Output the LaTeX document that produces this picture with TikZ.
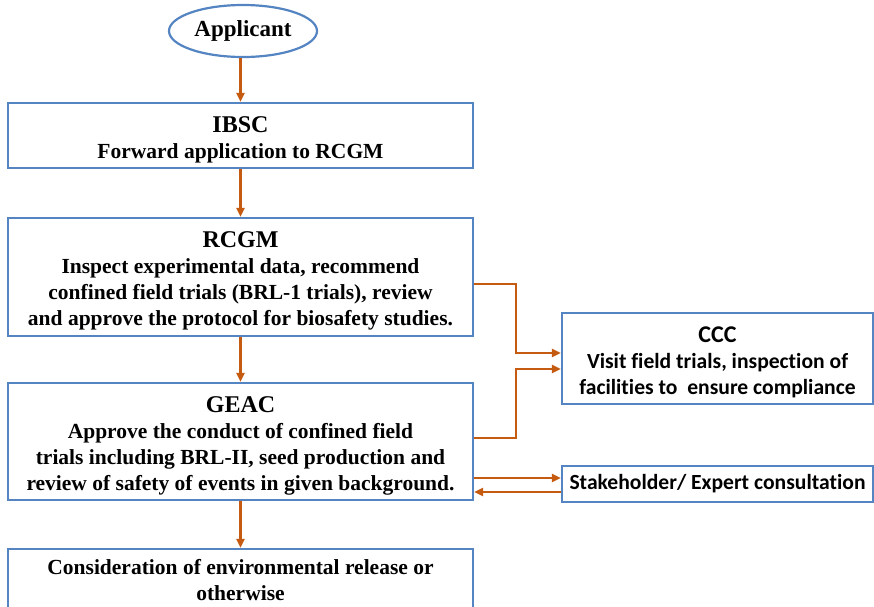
\documentclass[tikz,border=0pt]{standalone}
\usepackage{fontspec}
\setmainfont{Liberation Serif}
\newfontfamily\calibfont[Ligatures=NoCommon]{Carlito}
\usetikzlibrary{shapes.geometric,arrows.meta}
\definecolor{boxblue}{RGB}{84,132,194}
\definecolor{arrorange}{RGB}{197,90,17}
\newcommand{\hd}[1]{{\fontsize{24}{26}\selectfont\rule{0pt}{24pt}#1}}

\begin{document}
\begin{tikzpicture}[x=1pt,y=-1pt,
		box/.style={draw=boxblue, line width=2.2pt, fill=white, align=center, inner sep=0pt},
		leftbox/.style={box, minimum width=465pt, font=\bfseries\fontsize{21.5}{26}\selectfont},
		rightbox/.style={box, minimum width=311pt, font=\calibfont\bfseries\fontsize{21.6}{26}\selectfont},
		arr/.style={draw=arrorange, line width=2.2pt, -{Triangle[length=9pt,width=8pt]}}]
	\useasboundingbox (0,0) rectangle (874,606);
	\clip (0,0) rectangle (874,606);

	\node[ellipse, draw=boxblue, line width=2.2pt, minimum width=148pt, minimum height=52pt,
		inner sep=0pt, font=\bfseries\fontsize{23}{26}\selectfont] (app) at (243,31) {Applicant};
	\node[leftbox, minimum height=65pt] (ibsc) at (240.5,135.5)
		{\hd{IBSC}\\Forward application to RCGM};
	\node[leftbox, minimum height=118pt] (rcgm) at (240.5,277)
		{\hd{RCGM}\\Inspect experimental data, recommend\\confined field trials (BRL-1 trials), review\\and approve the protocol for biosafety studies.};
	\node[leftbox, minimum height=117pt] (geac) at (240.5,441.5)
		{\hd{GEAC}\\Approve the conduct of confined field\\trials including BRL-II, seed production and\\review of safety of events in given background.};
	\node[leftbox, minimum height=62pt] (cons) at (240.5,580)
		{Consideration of environmental release or\\otherwise};

	\node[rightbox, minimum height=91pt] (ccc) at (717.5,358.5)
		{\hd{CCC}\\Visit field trials, inspection of\\facilities to~ ensure compliance};
	\node[rightbox, minimum height=36pt] (stake) at (717.5,484)
		{Stakeholder/ Expert consultation};

	\draw[arr] (app.south -| ibsc.north) -- (ibsc.north);
	\draw[arr] (ibsc.south) -- (rcgm.north);
	\draw[arr] (rcgm.south) -- (geac.north);
	\draw[arr] (geac.south) -- (cons.north);

	\draw[arr] ([yshift=-7pt]rcgm.east) -- ++(42,0) |- ([yshift=5.5pt]ccc.west);
	\draw[arr] ([yshift=3.5pt]geac.east) -- ++(42,0) |- ([yshift=-10.5pt]ccc.west);

	\draw[arr] ([yshift=6pt]stake.west -| geac.east) -- ([yshift=6pt]stake.west);
	\draw[arr] ([yshift=-8pt]stake.west) -- ([yshift=-8pt]stake.west -| geac.east);
\end{tikzpicture}
\end{document}
